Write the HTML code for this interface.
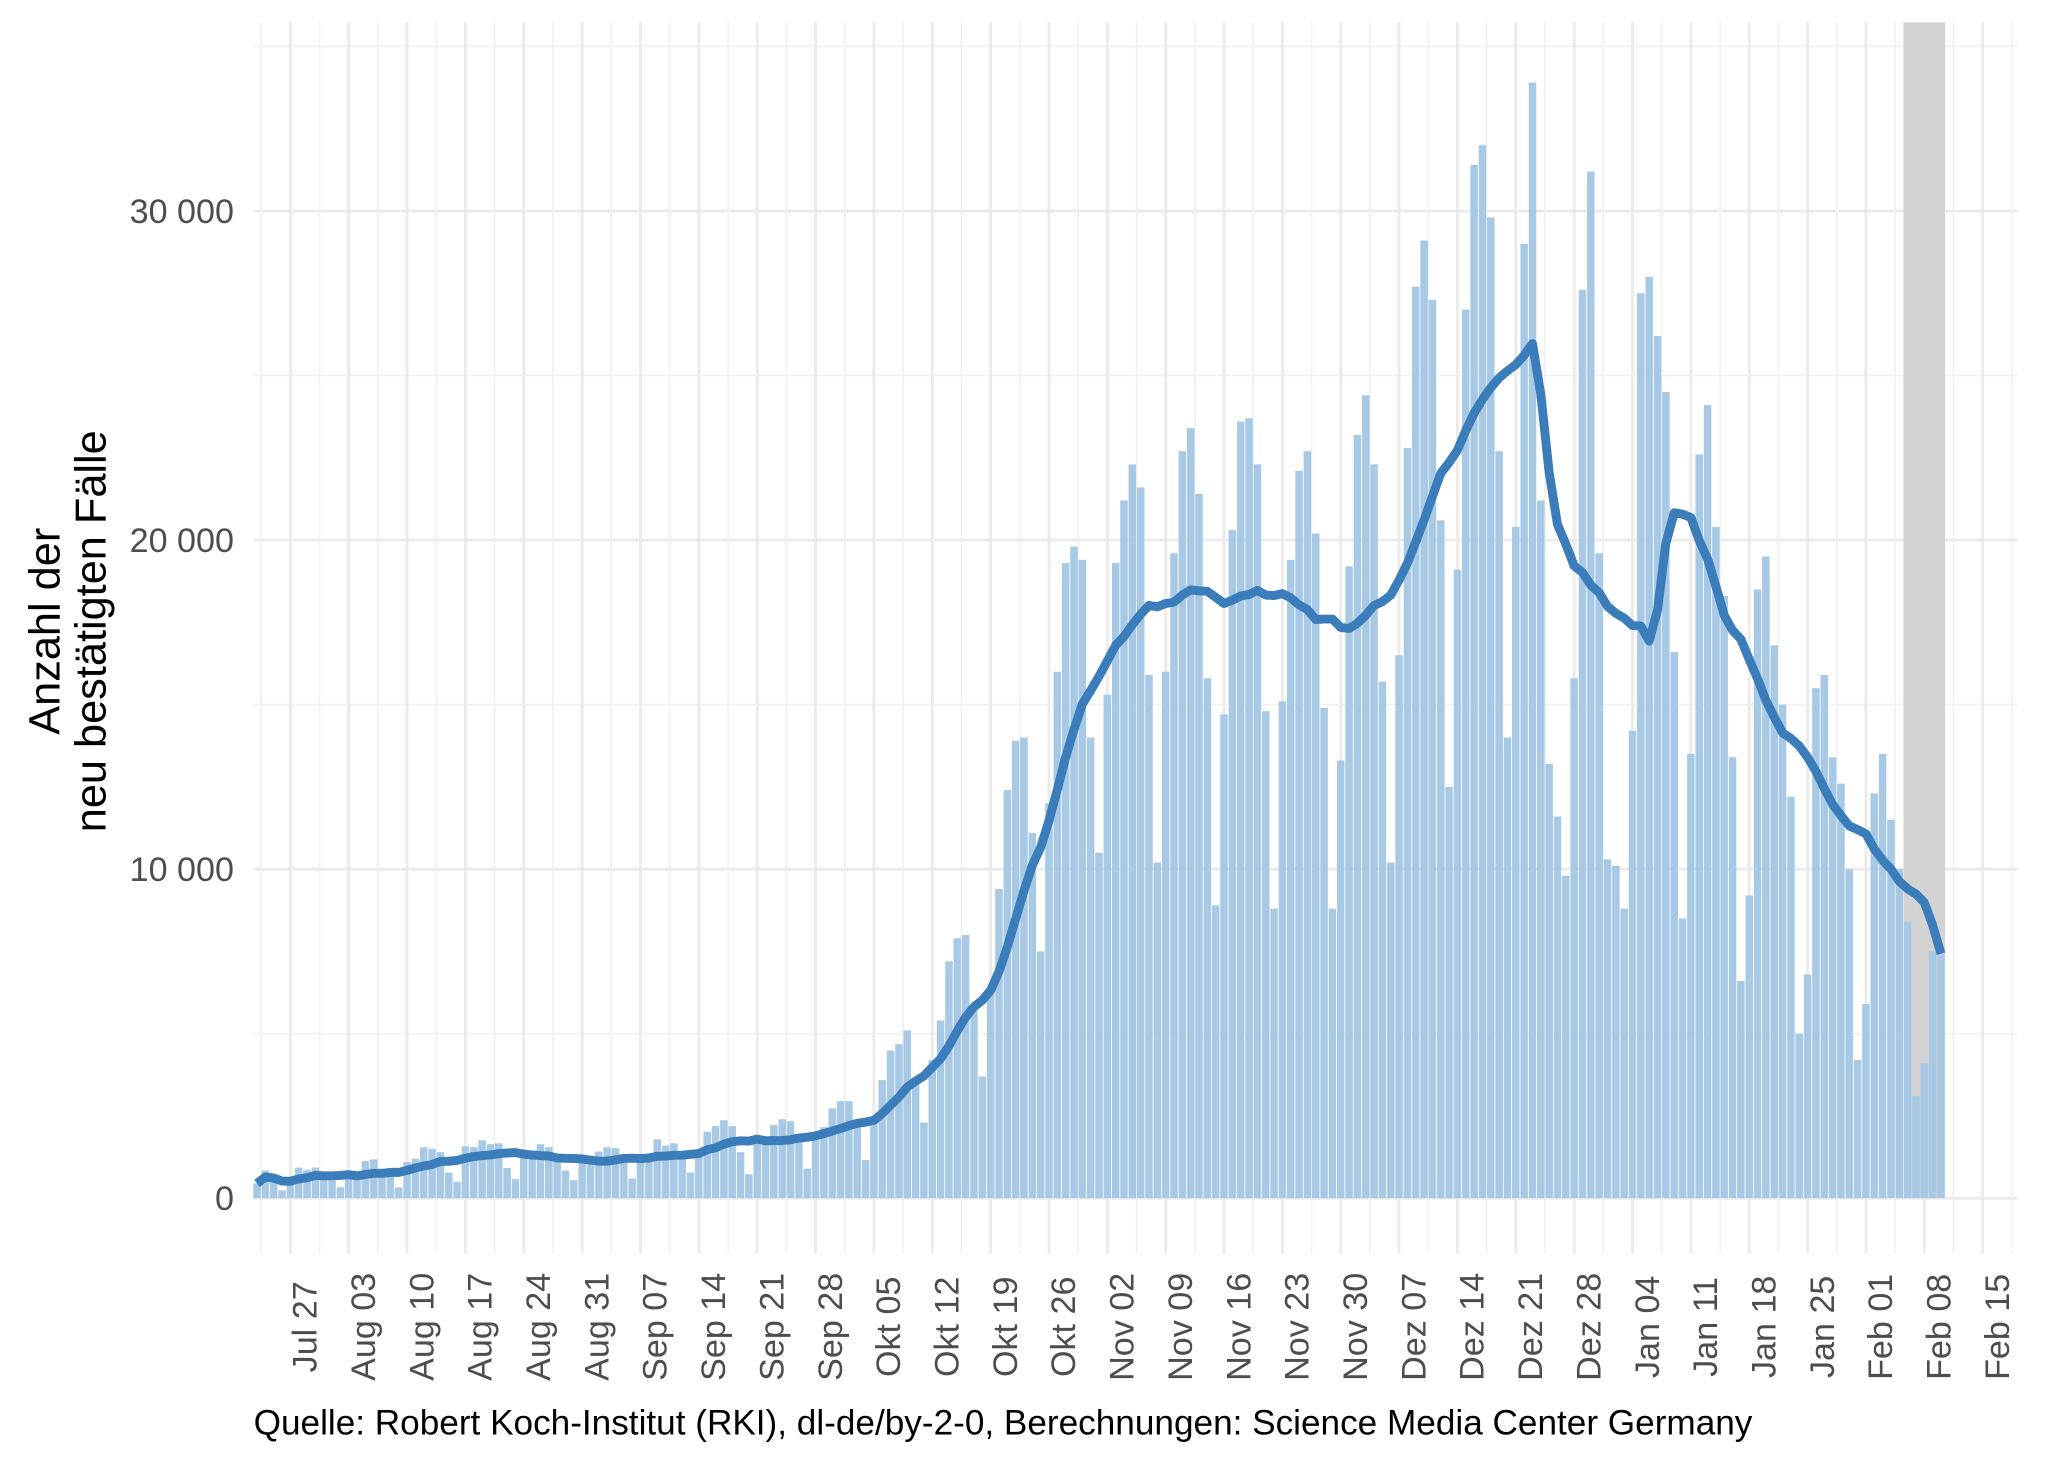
<!DOCTYPE html>
<html><head><meta charset="utf-8"><style>
html,body{margin:0;padding:0;background:#fff}
svg{display:block}
text{font-family:"Liberation Sans",Arial,sans-serif}
</style></head><body>
<svg id="chart" width="2048" height="1462" viewBox="0 0 1560 1114" xmlns="http://www.w3.org/2000/svg">
<rect x="0" y="0" width="1560" height="1114" fill="#fff"/>
<g id="grid"></g>
<g id="shade"></g>
<g id="bars"></g>
<g id="line"></g>
<g id="yaxis"></g>
<g id="xaxis"></g>
<text transform="translate(45,481) rotate(-90)" text-anchor="middle" font-size="33" fill="#000">Anzahl der</text>
<text transform="translate(80,481) rotate(-90)" text-anchor="middle" font-size="33" fill="#000">neu bestätigten Fälle</text>
<text x="193" y="1093" font-size="26.8" fill="#000">Quelle: Robert Koch-Institut (RKI), dl-de/by-2-0, Berechnungen: Science Media Center Germany</text>
</svg>
<script>
const startDate = "2020-07-23";
const dailyCases = [
450,840,550,240,
500,930,860,930,750,550,330,
650,700,1130,1180,750,750,330,
1100,1200,1550,1500,1400,780,500,
1580,1550,1760,1640,1670,920,580,
1260,1360,1640,1550,1260,840,550,
1160,1100,1420,1550,1520,1160,600,
1100,1200,1790,1600,1670,1200,780,
1260,2020,2190,2370,2190,1400,730,
1670,1670,2220,2400,2340,1770,900,
1970,2160,2730,2950,2950,2270,1160,
2370,3590,4490,4680,5100,3500,2300,
4200,5400,7200,7900,8000,5700,3700,
6300,9400,12400,13900,14000,11100,7500,
12000,16000,19300,19800,19400,14000,10500,
15300,19300,21200,22300,21600,15900,10200,
16000,19600,22700,23400,21400,15800,8900,
14700,20300,23600,23700,22300,14800,8800,
15100,19400,22100,22700,20200,14900,8800,
13300,19200,23200,24400,22300,15700,10200,
16500,22800,27700,29100,27300,20600,12500,
19100,27000,31400,32000,29800,22700,14000,
20400,29000,33900,21200,13200,11600,9800,
15800,27600,31200,19600,10300,10100,8800,
14200,27500,28000,26200,24500,16600,8500,
13500,22600,24100,20400,18300,13400,6600,
9200,18500,19500,16800,15000,12200,5000,
6800,15500,15900,13400,12600,10000,4200,
5900,12300,13500,11500,10000,8400,3100,
4100,7500,7400
];
const yTicks = [0,10000,20000,30000];
const yTickLabels = ["0","10 000","20 000","30 000"];
const yMinorTicks = [5000,15000,25000,35000];
const xTickDates = ["2020-07-27","2020-08-03","2020-08-10","2020-08-17","2020-08-24","2020-08-31","2020-09-07","2020-09-14","2020-09-21","2020-09-28","2020-10-05","2020-10-12","2020-10-19","2020-10-26","2020-11-02","2020-11-09","2020-11-16","2020-11-23","2020-11-30","2020-12-07","2020-12-14","2020-12-21","2020-12-28","2021-01-04","2021-01-11","2021-01-18","2021-01-25","2021-02-01","2021-02-08","2021-02-15"];
const xTickLabels = ["Jul 27","Aug 03","Aug 10","Aug 17","Aug 24","Aug 31","Sep 07","Sep 14","Sep 21","Sep 28","Okt 05","Okt 12","Okt 19","Okt 26","Nov 02","Nov 09","Nov 16","Nov 23","Nov 30","Dez 07","Dez 14","Dez 21","Dez 28","Jan 04","Jan 11","Jan 18","Jan 25","Feb 01","Feb 08","Feb 15"];
const shadeRange = ["2021-02-06","2021-02-10"];

const NS = "http://www.w3.org/2000/svg";
const DAY = 86400000;
const t0 = Date.parse(startDate+"T00:00:00Z");
const refT = Date.parse("2020-07-27T00:00:00Z");
const PX_DAY = 6.352, X_REF = 221, PLOT_L = 193, PLOT_R = 1537, PLOT_T = 17, PLOT_B = 955;
function dayIdx(s){ return (Date.parse(s+"T00:00:00Z")-t0)/DAY; }
function xScale(i){ return X_REF + (i - (refT-t0)/DAY)*PX_DAY; }
function yScale(v){ return 913 - v*0.025075; }
function mk(tag, attrs, parent){ const e=document.createElementNS(NS,tag); for(const k in attrs) e.setAttribute(k,attrs[k]); parent.appendChild(e); return e; }

const grid=document.getElementById('grid');
yMinorTicks.forEach(v=>{
  const l=mk('line',{x1:PLOT_L,x2:PLOT_R,y1:yScale(v),y2:yScale(v),stroke:'#f0f0f0','stroke-width':1.2},grid);
  
  
});
yTicks.forEach(v=>{
  const l=mk('line',{x1:PLOT_L,x2:PLOT_R,y1:yScale(v),y2:yScale(v),stroke:'#ebebeb','stroke-width':2.2},grid);
  
  
});
xTickDates.forEach((d,k)=>{
  const i=dayIdx(d);
  const l=mk('line',{x1:xScale(i),x2:xScale(i),y1:PLOT_T,y2:PLOT_B,stroke:'#ebebeb','stroke-width':2.2},grid);
  
  
  [-3.5,3.5].forEach(o=>{
    const xx=xScale(i+o);
    if(xx<PLOT_L||xx>PLOT_R) return;
    if(o<0 && k>0) return;
    const m=mk('line',{x1:xx,x2:xx,y1:PLOT_T,y2:PLOT_B,stroke:'#f0f0f0','stroke-width':1.2},grid);
    
    
  });
});

const s0=dayIdx(shadeRange[0])-0.5, s1=dayIdx(shadeRange[1])+0.5;
const sh=mk('rect',{x:xScale(s0),y:PLOT_T,width:xScale(s1)-xScale(s0),height:yScale(0)-PLOT_T,fill:'#d3d3d3'},document.getElementById('shade'));



const bars=document.getElementById('bars');
const bw=PX_DAY*0.9;
dailyCases.forEach((v,i)=>{
  const b=mk('rect',{x:xScale(i)-bw/2,y:yScale(v),width:bw,height:yScale(0)-yScale(v),fill:'#a8c9e5'},bars);
  
  
});

const avg=dailyCases.map((v,i)=>{ const s=dailyCases.slice(Math.max(0,i-6),i+1); return s.reduce((a,b)=>a+b,0)/s.length; });
const pts=avg.map((v,i)=>xScale(i).toFixed(2)+','+yScale(v).toFixed(2)).join(' ');
const pl=mk('polyline',{points:pts,fill:'none',stroke:'#3a7dba','stroke-width':6.8,'stroke-linejoin':'round'},document.getElementById('line'));



const ya=document.getElementById('yaxis');
yTicks.forEach((v,k)=>{
  const t=mk('text',{x:178,y:yScale(v)+9,'text-anchor':'end','font-size':26,fill:'#4d4d4d'},ya);
  t.textContent=yTickLabels[k];
  
  
});

const xa=document.getElementById('xaxis');
xTickDates.forEach((d,k)=>{
  const x=xScale(dayIdx(d))+20;
  const t=mk('text',{transform:'translate('+x.toFixed(2)+',1011) rotate(-90)','text-anchor':'middle','font-size':26,fill:'#4d4d4d'},xa);
  t.textContent=xTickLabels[k];
  
  
});
</script>
</body></html>
